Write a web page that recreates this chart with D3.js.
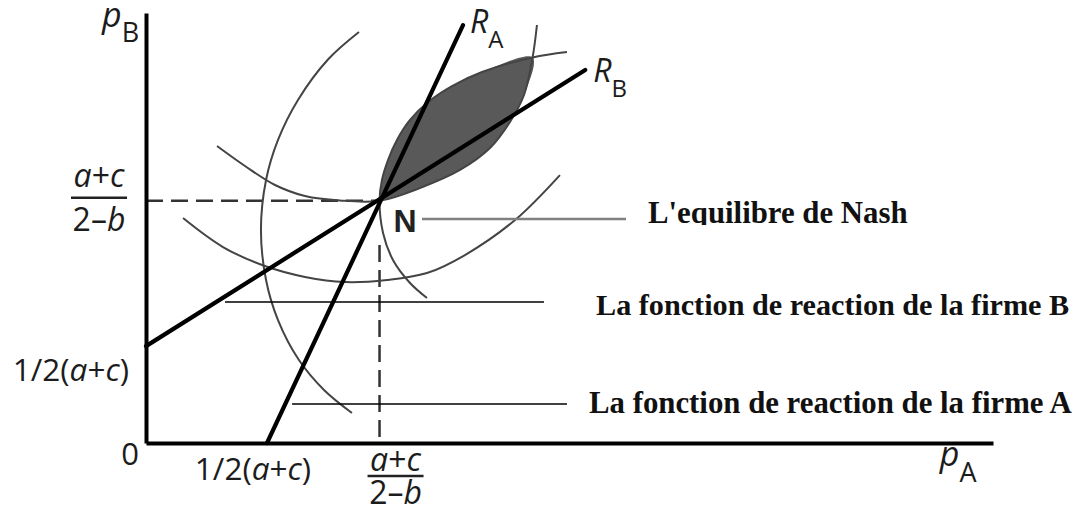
<!DOCTYPE html>
<html>
<head>
<meta charset="utf-8">
<script src="https://cdn.jsdelivr.net/npm/d3@7"></script>
<style>
  html, body { margin: 0; padding: 0; background: #fff; }
  svg { display: block; }
  .sans { font-family: "Open Sans", "Noto Sans", sans-serif; fill: #1c1c1c; }
  .serif { font-family: "Liberation Serif", "Times New Roman", serif; font-weight: bold; fill: #111; }
</style>
</head>
<body>
<svg id="chart" width="1087" height="510"></svg>
<script>
// ---------- data (abstract price units) ----------
const nash = [1.93, 2.0];                 // Nash equilibrium N
const reactionA = [[1.0, 0], [2.62, 3.45]];      // R_A
const reactionB = [[0, 0.80], [3.63, 3.08]];     // R_B
const corner = [3.195, 3.183];            // top corner of the lens

// isoprofit of firm B (low level), C-shaped
const isoB1 = [[1.760,3.393],[1.504,3.166],[1.256,2.832],[1.091,2.502],[0.992,2.171],[0.950,1.759],
               [0.992,1.346],[1.091,1.015],[1.264,0.685],[1.471,0.438],[1.702,0.248]];
// isoprofit of firm A (low level), U-shaped
const isoA1 = [[0.306,1.857],[0.636,1.618],[0.983,1.461],[1.314,1.371],[1.645,1.329],
               [1.992,1.346],[2.322,1.403],[2.636,1.552],[3.050,1.841],[3.421,2.212]];
// isoprofit of firm A through N
const isoA2 = [[0.587,2.452],[0.818,2.287],[1.066,2.130],[1.314,2.039],[1.603,2.002],
               nash,[2.264,2.105],[2.595,2.254],[2.843,2.435],[3.008,2.650],[3.124,2.873],corner,[3.231,3.451]];
// isoprofit of firm B through N
const isoB2 = [[2.322,1.197],[2.182,1.321],[2.041,1.511],[1.959,1.734],nash,[1.950,2.171],
               [2.000,2.336],[2.074,2.502],[2.182,2.667],[2.331,2.815],[2.529,2.947],[2.777,3.063],corner,[3.479,3.228]];

// annotation pointer lines
const pointerN = [[2.281, 1.849], [3.967, 1.849]];
const pointerB = [[0.653, 1.164], [3.289, 1.164]];
const pointerA = [[1.207, 0.322], [3.479, 0.322]];

const noteLabels = ["L'equilibre de Nash", "La fonction de reaction de la firme B", "La fonction de reaction de la firme A"];
const halfAC = 0.80;   // 1/2(a+c) on the pB axis
const halfACx = 1.0;   // 1/2(a+c) on the pA axis

// ---------- scales ----------
const svg = d3.select("#chart");
const x = d3.scaleLinear().domain([0, 7]).range([146, 993]);
const y = d3.scaleLinear().domain([0, 3.55]).range([443, 13]);

const smooth = d3.line().x(d => x(d[0])).y(d => y(d[1])).curve(d3.curveCatmullRom.alpha(0.5));
const straight = d3.line().x(d => x(d[0])).y(d => y(d[1]));

// ---------- lens (shaded) ----------
const iNb = isoB2.indexOf(nash), iCb = isoB2.indexOf(corner);
const iNa = isoA2.indexOf(nash), iCa = isoA2.indexOf(corner);
const upper = isoB2.slice(iNb, iCb + 1);
const lower = isoA2.slice(iNa, iCa + 1).reverse();
const lensPts = upper.concat(lower.slice(1));
svg.append("path")
  .attr("d", smooth(lensPts) + "Z")
  .attr("fill", "#595959")
  .attr("stroke", "none");

// ---------- dashed guides ----------
svg.append("path").attr("d", straight([[0, nash[1]], nash]))
  .attr("stroke", "#333").attr("stroke-width", 2.5).attr("stroke-dasharray", "17,8").attr("fill", "none");
svg.append("path").attr("d", straight([[nash[0], 0.05], [nash[0], 1.70]]))
  .attr("stroke", "#333").attr("stroke-width", 2.5).attr("stroke-dasharray", "17,8").attr("fill", "none");

// ---------- isoprofit curves ----------
[isoB1, isoA1, isoA2, isoB2].forEach(c => {
  svg.append("path").attr("d", smooth(c))
    .attr("fill", "none").attr("stroke", "#444").attr("stroke-width", 2);
});

// ---------- reaction lines ----------
[reactionA, reactionB].forEach(l => {
  svg.append("path").attr("d", straight(l))
    .attr("fill", "none").attr("stroke", "#000").attr("stroke-width", 4.2).attr("stroke-linecap", "round");
});

// ---------- pointer lines ----------
svg.append("path").attr("d", straight(pointerN)).attr("stroke", "#808080").attr("stroke-width", 2.6).attr("fill", "none");
svg.append("path").attr("d", straight(pointerB)).attr("stroke", "#000").attr("stroke-width", 1.6).attr("fill", "none");
svg.append("path").attr("d", straight(pointerA)).attr("stroke", "#000").attr("stroke-width", 1.6).attr("fill", "none");

// ---------- axes ----------
const gx = svg.append("g").attr("transform", `translate(0,${y(0)})`)
  .call(d3.axisBottom(x).ticks(0).tickSizeOuter(0));
const gy = svg.append("g").attr("transform", `translate(${x(0)},0)`)
  .call(d3.axisLeft(y).ticks(0).tickSizeOuter(0));
[gx, gy].forEach(g => g.select(".domain").attr("stroke", "#000").attr("stroke-width", 4));

// ---------- axis labels ----------
function subLabel(px, py, main, sub, mainSize, subSize, dy) {
  const t = svg.append("text").attr("class", "sans").attr("x", px).attr("y", py);
  t.append("tspan").attr("font-style", "italic").attr("font-size", mainSize).text(main);
  t.append("tspan").attr("font-size", subSize).attr("dy", dy).text(sub);
}
subLabel(102, 27, "p", "B", 34, 27, 15);
subLabel(x(6.56), 466, "p", "A", 34, 27, 16);
subLabel(x(reactionA[1][0]) + 7, 33, "R", "A", 32, 24, 15);
subLabel(x(reactionB[1][0]) + 8, 82, "R", "B", 32, 24, 15);

function fraction(cx, yNum, yBar, yDen, size) {
  const n = svg.append("text").attr("class", "sans").attr("x", cx).attr("y", yNum)
    .attr("text-anchor", "middle").attr("font-size", size);
  n.append("tspan").attr("font-style", "italic").text("a");
  n.append("tspan").text("+");
  n.append("tspan").attr("font-style", "italic").text("c");
  svg.append("line").attr("x1", cx - 28).attr("x2", cx + 28).attr("y1", yBar).attr("y2", yBar)
    .attr("stroke", "#222").attr("stroke-width", 2.6);
  const d = svg.append("text").attr("class", "sans").attr("x", cx).attr("y", yDen)
    .attr("text-anchor", "middle").attr("font-size", size);
  d.append("tspan").text("2\u2013");
  d.append("tspan").attr("font-style", "italic").text("b");
}
fraction(99, y(nash[1]) - 14, y(nash[1]) - 3, y(nash[1]) + 30, 32);
fraction(x(nash[0]) + 16, 471, 476, 504, 32);

function halfLabel(px, py, anchor) {
  const t = svg.append("text").attr("class", "sans").attr("x", px).attr("y", py)
    .attr("text-anchor", anchor).attr("font-size", 31.5);
  t.append("tspan").text("1/2(");
  t.append("tspan").attr("font-style", "italic").text("a");
  t.append("tspan").text("+");
  t.append("tspan").attr("font-style", "italic").text("c");
  t.append("tspan").text(")");
}
halfLabel(x(0) - 17, y(halfAC) + 35, "end");
halfLabel(x(halfACx) - 14, 480, "middle");

svg.append("text").attr("class", "sans").attr("x", x(0) - 16).attr("y", 465)
  .attr("text-anchor", "middle").attr("font-size", 31).text("0");

svg.append("text").attr("x", x(nash[0]) + 14).attr("y", y(nash[1]) + 31)
  .attr("font-family", "'Liberation Sans', Arial, sans-serif").attr("font-weight", "bold")
  .attr("font-size", 32).attr("fill", "#222").text("N");

// ---------- notes ----------
svg.append("clipPath").attr("id", "clipNash").append("rect")
  .attr("x", 600).attr("y", 180).attr("width", 400).attr("height", 45);
svg.append("text").attr("class", "serif").attr("x", 648).attr("y", 223).attr("font-size", 30.8)
  .attr("clip-path", "url(#clipNash)").text(noteLabels[0]);
svg.append("text").attr("class", "serif").attr("x", 596).attr("y", 315).attr("font-size", 30.2).text(noteLabels[1]);
svg.append("text").attr("class", "serif").attr("x", 589).attr("y", 413).attr("font-size", 30.8).text(noteLabels[2]);
</script>
</body>
</html>
